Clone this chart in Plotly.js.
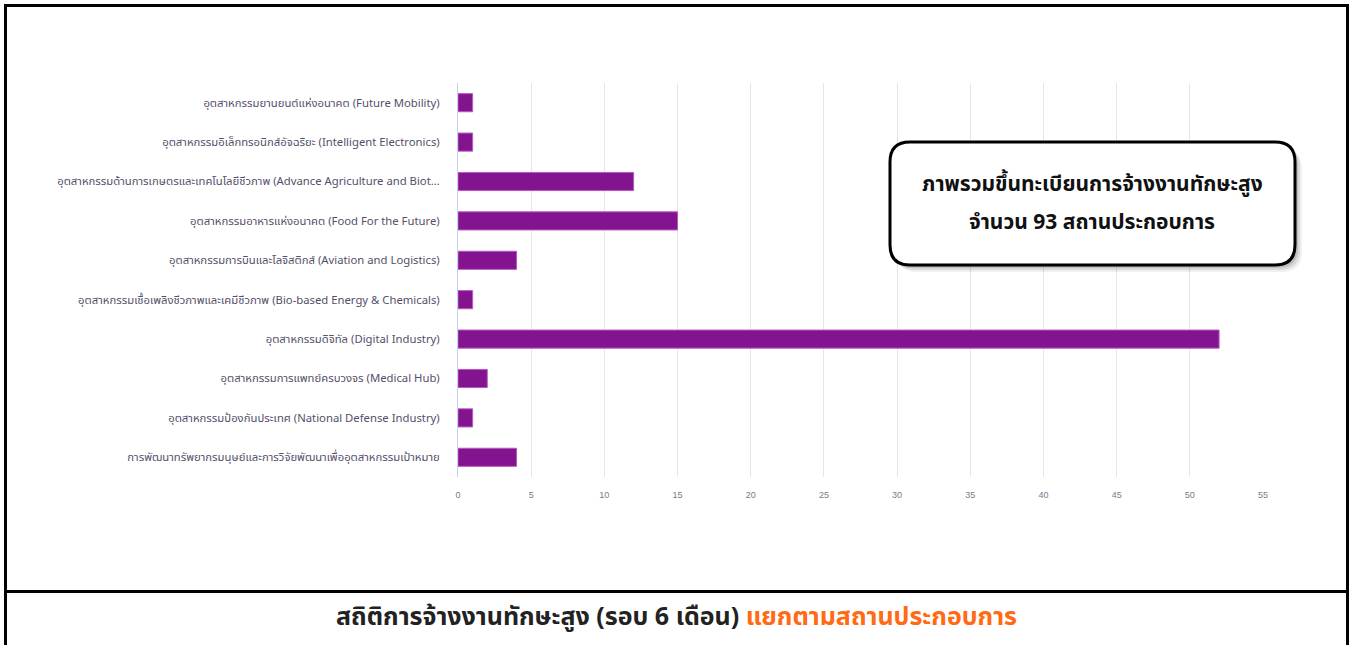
<!DOCTYPE html>
<html>
<head>
<meta charset="utf-8">
<script src="https://cdn.plot.ly/plotly-3.0.1.min.js"></script>
<style>html,body{margin:0;padding:0;background:#fff;}#chart{width:1354px;height:645px;}</style>
</head>
<body>
<div id="chart"></div>
<script>
const categories = [
  "อุตสาหกรรมยานยนต์แห่งอนาคต (Future Mobility)",
  "อุตสาหกรรมอิเล็กทรอนิกส์อัจฉริยะ (Intelligent Electronics)",
  "อุตสาหกรรมด้านการเกษตรและเทคโนโลยีชีวภาพ (Advance Agriculture and Biot…",
  "อุตสาหกรรมอาหารแห่งอนาคต (Food For the Future)",
  "อุตสาหกรรมการบินและโลจิสติกส์ (Aviation and Logistics)",
  "อุตสาหกรรมเชื้อเพลิงชีวภาพและเคมีชีวภาพ (Bio-based Energy & Chemicals)",
  "อุตสาหกรรมดิจิทัล (Digital Industry)",
  "อุตสาหกรรมการแพทย์ครบวงจร (Medical Hub)",
  "อุตสาหกรรมป้องกันประเทศ (National Defense Industry)",
  "การพัฒนาทรัพยากรมนุษย์และการวิจัยพัฒนาเพื่ออุตสาหกรรมเป้าหมาย"
];
const values = [1, 1, 12, 15, 4, 1, 52, 2, 1, 4];
const xTicks = [0, 5, 10, 15, 20, 25, 30, 35, 40, 45, 50, 55];
const boxLine1 = "ภาพรวมขึ้นทะเบียนการจ้างงานทักษะสูง";
const boxLine2 = "จำนวน 93 สถานประกอบการ";
const titleMain = "สถิติการจ้างงานทักษะสูง (รอบ 6 เดือน)";
const titleAccent = "แยกตามสถานประกอบการ";

const W = 1354, H = 645;
const L = 458, R = 91, T = 83, B = 168;
const PW = W - L - R, PH = H - T - B;
const px = p => (p - L) / PW;
const py = p => (H - B - p) / PH;

function roundRect(x0, y0, x1, y1, r) {
  const X = px, Y = py;
  return "M" + X(x0 + r) + "," + Y(y0) +
    " L" + X(x1 - r) + "," + Y(y0) +
    " Q" + X(x1) + "," + Y(y0) + " " + X(x1) + "," + Y(y0 + r) +
    " L" + X(x1) + "," + Y(y1 - r) +
    " Q" + X(x1) + "," + Y(y1) + " " + X(x1 - r) + "," + Y(y1) +
    " L" + X(x0 + r) + "," + Y(y1) +
    " Q" + X(x0) + "," + Y(y1) + " " + X(x0) + "," + Y(y1 - r) +
    " L" + X(x0) + "," + Y(y0 + r) +
    " Q" + X(x0) + "," + Y(y0) + " " + X(x0 + r) + "," + Y(y0) + " Z";
}

const thaiFont = "Tahoma, 'Noto Sans Thai', 'Noto Sans', 'DejaVu Sans', sans-serif";

const trace = {
  type: "bar",
  orientation: "h",
  x: values,
  y: categories,
  marker: { color: "#84138F", line: { color: "#B55BC2", width: 1 } },
  hoverinfo: "x+y"
};

const shadowLayers = [
  { d: 7, o: 0.06 }, { d: 5, o: 0.09 }, { d: 3, o: 0.12 }
].map(s => ({
  type: "path", xref: "paper", yref: "paper",
  path: roundRect(890 + s.d, 142 + s.d, 1295 + s.d, 265 + s.d, 20),
  fillcolor: "rgba(0,0,0," + s.o + ")", line: { width: 0 }, layer: "above"
}));

const layout = {
  width: W, height: H,
  margin: { l: L, r: R, t: T, b: B, pad: 0 },
  paper_bgcolor: "#ffffff",
  plot_bgcolor: "#ffffff",
  showlegend: false,
  bargap: 0.54,
  xaxis: {
    range: [0, 55],
    tickvals: xTicks,
    ticktext: xTicks.map(String),
    showgrid: true,
    gridcolor: "#e6e6e6",
    gridwidth: 1,
    zeroline: false,
    showline: false,
    ticks: "",
    ticklabelstandoff: 11,
    tickfont: { size: 9, color: "#7a7a8a", family: "'Liberation Sans', Arial, sans-serif" },
    fixedrange: true
  },
  yaxis: {
    autorange: "reversed",
    showgrid: false,
    zeroline: false,
    showline: true,
    linecolor: "#c6cff2",
    linewidth: 1,
    ticks: "",
    ticklabelstandoff: 15,
    tickfont: { size: 11.3, color: "#554f6a", family: thaiFont },
    fixedrange: true
  },
  shapes: [
    { type: "rect", xref: "paper", yref: "paper", x0: px(5.5), x1: px(1347.5), y0: py(5.5), y1: py(660),
      line: { color: "#000", width: 3 }, fillcolor: "rgba(0,0,0,0)", layer: "above" },
    { type: "line", xref: "paper", yref: "paper", x0: px(5.5), x1: px(1347.5), y0: py(591.5), y1: py(591.5),
      line: { color: "#000", width: 3 }, layer: "above" }
  ].concat(shadowLayers).concat([
    { type: "path", xref: "paper", yref: "paper", path: roundRect(890, 142, 1295, 265, 20),
      fillcolor: "#ffffff", line: { color: "#000", width: 3 }, layer: "above" }
  ]),
  annotations: [
    { xref: "paper", yref: "paper", x: px(1092), y: py(184), text: "<b>" + boxLine1 + "</b>",
      showarrow: false, xanchor: "center", yanchor: "middle",
      font: { size: 21, color: "#111", family: thaiFont } },
    { xref: "paper", yref: "paper", x: px(1092), y: py(222), text: "<b>" + boxLine2 + "</b>",
      showarrow: false, xanchor: "center", yanchor: "middle",
      font: { size: 21, color: "#111", family: thaiFont } },
    { xref: "paper", yref: "paper", x: px(676), y: py(617),
      text: "<b>" + titleMain + " <span style='color:#FF6A13'>" + titleAccent + "</span></b>",
      showarrow: false, xanchor: "center", yanchor: "middle",
      font: { size: 25, color: "#222", family: thaiFont } }
  ]
};

Plotly.newPlot("chart", [trace], layout, { displayModeBar: false, staticPlot: true });
</script>
</body>
</html>
